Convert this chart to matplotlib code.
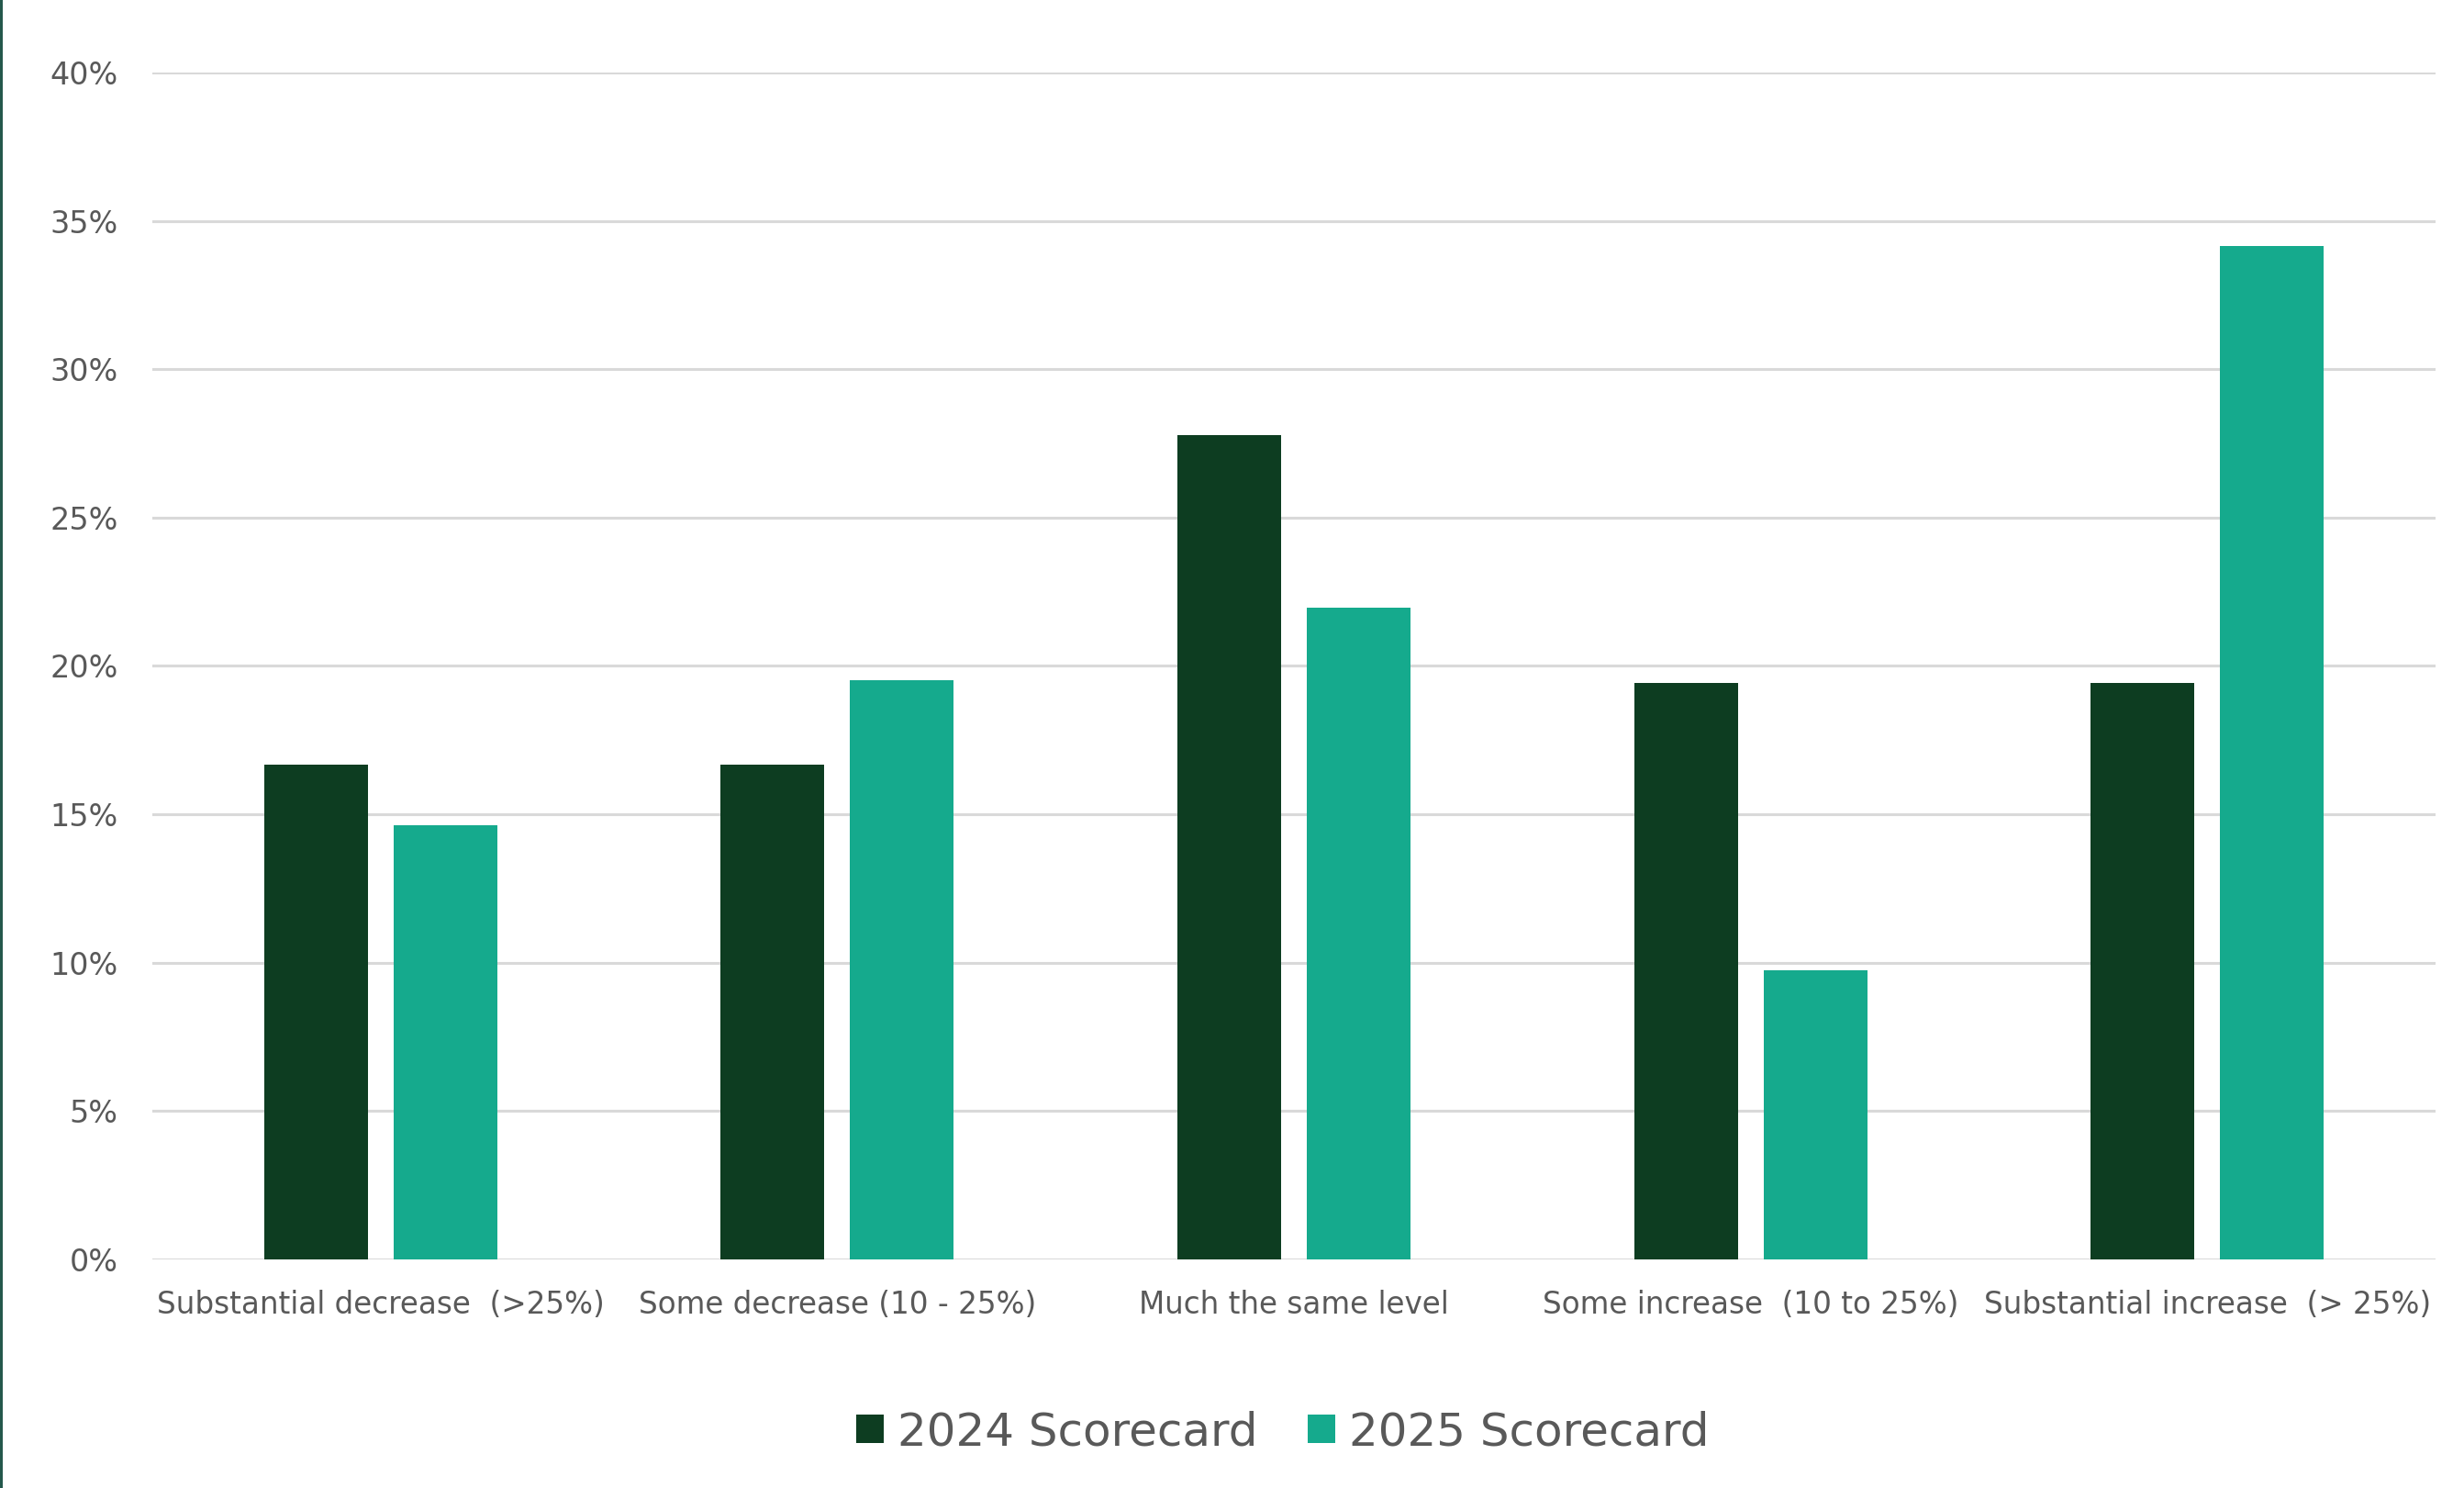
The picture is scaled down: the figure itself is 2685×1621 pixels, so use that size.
import numpy as np
import matplotlib.pyplot as plt
from matplotlib.patches import Rectangle
from matplotlib.ticker import PercentFormatter

CATEGORIES = [
    "Substantial decrease  (>25%)",
    "Some decrease (10 - 25%)",
    "Much the same level",
    "Some increase  (10 to 25%)",
    "Substantial increase  (> 25%)",
]
SERIES = ["2024 Scorecard", "2025 Scorecard"]
VALUES_2024 = [0.1667, 0.1667, 0.2778, 0.1944, 0.1944]
VALUES_2025 = [0.1463, 0.1951, 0.2195, 0.0976, 0.3415]
COLORS = ["#0d3d21", "#15aa8d"]
TEXT = "#595959"

fig = plt.figure(figsize=(26.85, 16.21), dpi=100)
ax = fig.add_axes([0.0618, 0.1536, 0.9267, 0.7977])

x = np.arange(len(CATEGORIES))
w = 0.227
off = w / 2 + 0.028
ax.bar(x - off, VALUES_2024, w, color=COLORS[0], label=SERIES[0], zorder=3)
ax.bar(x + off, VALUES_2025, w, color=COLORS[1], label=SERIES[1], zorder=3)

ax.set_xlim(-0.5, len(CATEGORIES) - 0.5)
ax.set_ylim(0, 0.40)
ax.set_yticks(np.arange(0, 0.401, 0.05))
ax.yaxis.set_major_formatter(PercentFormatter(1.0, decimals=0))
ax.set_xticks(x)
ax.set_xticklabels(CATEGORIES)
ax.grid(axis="y", color="#d9d9d9", lw=2.2, zorder=0)
ax.set_axisbelow(True)
for s in ax.spines.values():
    s.set_visible(False)
ax.tick_params(axis="y", length=0, pad=27, labelsize=24, labelcolor=TEXT)
ax.tick_params(axis="x", length=0, pad=24, labelsize=23.5, labelcolor=TEXT)

fig.legend(
    loc="center", bbox_to_anchor=(0.5205, 0.0376), ncol=2, frameon=False,
    fontsize=36, labelcolor=TEXT, handlelength=0.6, handleheight=0.6,
    handletextpad=0.3, columnspacing=1.1,
)

# thin dark border on the left edge
fig.add_artist(Rectangle((0, 0), 3 / 2685, 1, transform=fig.transFigure,
                         color="#24584c", lw=0))

fig.savefig("out.png", dpi=100)
